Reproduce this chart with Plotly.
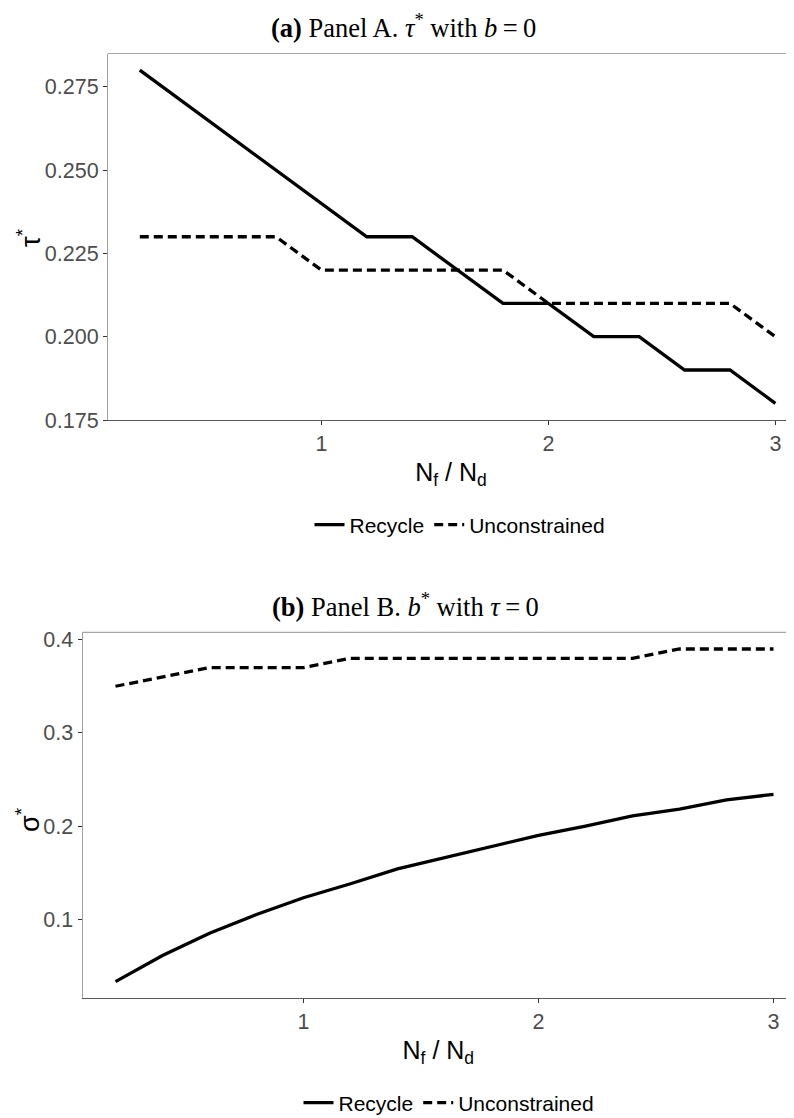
import plotly.graph_objects as go

# ---- data ----
ratio = [0.2, 0.4, 0.6, 0.8, 1.0, 1.2, 1.4, 1.6, 1.8, 2.0, 2.2, 2.4, 2.6, 2.8, 3.0]

tau_recycle = [0.28, 0.27, 0.26, 0.25, 0.24, 0.23, 0.23, 0.22, 0.21, 0.21, 0.20, 0.20, 0.19, 0.19, 0.18]
tau_unconstrained = [0.23, 0.23, 0.23, 0.23, 0.22, 0.22, 0.22, 0.22, 0.22, 0.21, 0.21, 0.21, 0.21, 0.21, 0.20]

b_recycle = [0.033, 0.061, 0.085, 0.105, 0.123, 0.138, 0.154, 0.166, 0.178, 0.190, 0.200, 0.211, 0.218, 0.228, 0.234]
b_unconstrained = [0.35, 0.36, 0.37, 0.37, 0.37, 0.38, 0.38, 0.38, 0.38, 0.38, 0.38, 0.38, 0.39, 0.39, 0.39]

series_names = ["Recycle", "Unconstrained"]
x_ticks = [1, 2, 3]
tau_ticks = [0.175, 0.200, 0.225, 0.250, 0.275]
b_ticks = [0.1, 0.2, 0.3, 0.4]

# page body has an 8px default margin: the figure is drawn offset by (8, 8)
OFF = 8
VW, VH = 794, 1118
W, H = VW - OFF, VH - OFF

def px(xr):   # reference page x -> paper x
    return (xr - OFF) / W

def py(yr):   # reference page y -> paper y
    return 1 - (yr - OFF) / H

SANS = "Liberation Sans, Arial, Helvetica, sans-serif"
SERIF = "Liberation Serif, Times New Roman, serif"
LW = 3.3
DASH = "9px,5px"

fig = go.Figure()

# Panel A
fig.add_trace(go.Scatter(x=ratio, y=tau_recycle, mode="lines", name=series_names[0],
                         line=dict(color="black", width=LW), xaxis="x", yaxis="y",
                         legend="legend"))
fig.add_trace(go.Scatter(x=ratio, y=tau_unconstrained, mode="lines", name=series_names[1],
                         line=dict(color="black", width=LW, dash=DASH), xaxis="x", yaxis="y",
                         legend="legend"))
# Panel B
fig.add_trace(go.Scatter(x=ratio, y=b_recycle, mode="lines", name=series_names[0],
                         line=dict(color="black", width=LW), xaxis="x2", yaxis="y2",
                         legend="legend2"))
fig.add_trace(go.Scatter(x=ratio, y=b_unconstrained, mode="lines", name=series_names[1],
                         line=dict(color="black", width=LW, dash=DASH), xaxis="x2", yaxis="y2",
                         legend="legend2"))

tickfont = dict(family=SANS, size=21.5, color="#4D4D4D")
titlefont = dict(family=SANS, size=25, color="black")

def xax(left_px, scale, anchor):
    rng = [0.06, 0.06 + (VW - left_px) / scale]
    return dict(domain=[px(left_px), 1.0], range=rng, anchor=anchor, automargin=False,
                tickvals=x_ticks, ticktext=[str(v) for v in x_ticks],
                showgrid=False, zeroline=False, showline=True,
                linecolor="#5A5A5A", linewidth=1.2,
                ticks="outside", ticklen=4, tickcolor="#333333", tickwidth=1.1,
                tickfont=tickfont,
                title=dict(text="N<sub>f</sub> / N<sub>d</sub>", font=titlefont, standoff=8))

def yax(top_px, bottom_px, rng, tickvals, fmt, anchor):
    return dict(domain=[py(bottom_px), py(top_px)], range=rng, anchor=anchor, automargin=False,
                tickvals=tickvals, ticktext=[fmt.format(v) for v in tickvals],
                showgrid=False, zeroline=False, showline=True,
                linecolor="#A0A0A0", linewidth=1.2,
                ticks="outside", ticklen=4, tickcolor="#333333", tickwidth=1.1,
                tickfont=tickfont)

ytitle_font = dict(family=SANS, size=27, color="black")

fig.update_layout(
    width=W, height=H,
    margin=dict(l=0, r=0, t=0, b=0, autoexpand=False),
    paper_bgcolor="white", plot_bgcolor="white",
    xaxis=xax(108, 227.0, "y"),
    yaxis=yax(53.5, 420, [0.175, 0.285], tau_ticks, "{:.3f}", "x"),
    xaxis2=xax(82.6, 235.0, "y2"),
    yaxis2=yax(632.3, 998.3, [0.0151, 0.4079], b_ticks, "{:.1f}", "x2"),
    legend=dict(orientation="h", x=px(460), y=py(525), xanchor="center", yanchor="middle",
                font=dict(family=SANS, size=21, color="black"), itemwidth=30,
                bgcolor="rgba(0,0,0,0)"),
    legend2=dict(orientation="h", x=px(449), y=py(1103), xanchor="center", yanchor="middle",
                 font=dict(family=SANS, size=21, color="black"), itemwidth=30,
                 bgcolor="rgba(0,0,0,0)"),
    shapes=[
        dict(type="line", xref="x domain", yref="y domain", x0=0, x1=1.02, y0=1, y1=1,
             line=dict(color="#A6A6A6", width=1.2)),
        dict(type="line", xref="x2 domain", yref="y2 domain", x0=0, x1=1.02, y0=1, y1=1,
             line=dict(color="#A6A6A6", width=1.2)),
    ],
    annotations=[
        dict(text="<b>(a)</b> Panel A. <i>τ</i><sup>*</sup> with <i>b</i>\u2009=\u20090",
             xref="paper", yref="paper", x=px(403), y=1, xanchor="center",
             yanchor="top", showarrow=False, borderpad=0,
             font=dict(family=SERIF, size=26.5, color="black")),
        dict(text="<b>(b)</b> Panel B. <i>b</i><sup>*</sup> with <i>τ</i>\u2009=\u20090",
             xref="paper", yref="paper", x=px(405), y=py(605), xanchor="center",
             yanchor="middle", showarrow=False,
             font=dict(family=SERIF, size=26.5, color="black")),
        dict(text="τ<sup>*</sup>", textangle=-90,
             xref="paper", yref="paper", x=px(29), y=py(238), xanchor="center",
             yanchor="middle", showarrow=False, font=ytitle_font),
        dict(text="σ<sup>*</sup>", textangle=-90,
             xref="paper", yref="paper", x=px(28), y=py(820), xanchor="center",
             yanchor="middle", showarrow=False, font=ytitle_font),
    ],
)

fig.write_html("out.html")
